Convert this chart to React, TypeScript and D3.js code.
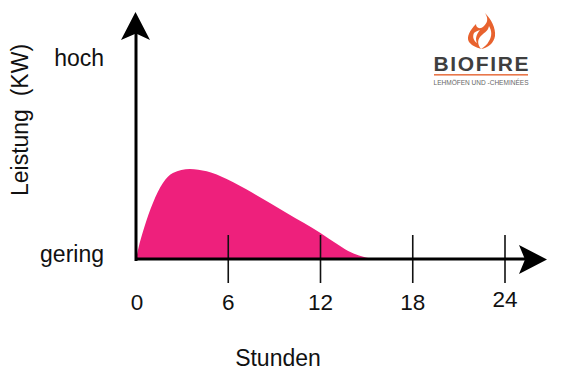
import React from "react";
import * as d3 from "d3";

const hours = [0, 0.13, 0.55, 1.1, 1.75, 2.4, 3.5, 4.6, 5.9, 7.6, 9.8, 12, 13, 13.8, 14.5, 15.4];
const power = [0, 0.045, 0.16, 0.279, 0.378, 0.428, 0.448, 0.436, 0.398, 0.328, 0.229, 0.129, 0.078, 0.04, 0.018, 0.0];
const tickHours = [6, 12, 18, 24];
const xLabels = ["0", "6", "12", "18", "24"];
const xLabelHours = [0, 6, 12, 18, 24];
const yLabels = ["gering", "hoch"];
const yLabelValues = [0, 1];

const x = d3.scaleLinear().domain([0, 24]).range([136, 505]);
const y = d3.scaleLinear().domain([0, 1]).range([259, 58]);
const FONT = "'Liberation Sans', Arial, sans-serif";

export default function App() {
  const area = d3
    .area<number>()
    .x((d) => x(d))
    .y0(y(0))
    .y1((_, i) => y(power[i]))
    .curve(d3.curveMonotoneX)(hours) as string;
  return (
    <svg
      width={561}
      height={379}
      style={{ position: "absolute", left: 0, top: 0, background: "#fff" }}
      fontFamily={FONT}
    >
      <path d={area} fill="#EE207C" />
      {tickHours.map((h) => (
        <line key={h} x1={x(h)} x2={x(h)} y1={235} y2={283} stroke="#111" strokeWidth={1.6} />
      ))}
      <line x1={136} x2={136} y1={30} y2={261} stroke="#000" strokeWidth={3} />
      <line x1={135} x2={530} y1={259} y2={259} stroke="#000" strokeWidth={3} />
      <path d="M135.5 12 L150 40 L136 33.5 L121 40 Z" fill="#000" />
      <path d="M547 259.5 L519 245 L525 259.5 L519 274 Z" fill="#000" />
      {xLabels.map((t, i) => (
        <text key={t} x={x(xLabelHours[i]) + (t === "0" ? 1 : 0)} y={t === "24" ? 307 : 310} fontSize={22.5} textAnchor="middle" fill="#111">
          {t}
        </text>
      ))}
      {yLabels.map((t, i) => (
        <text key={t} x={104} y={y(yLabelValues[i]) + (i === 0 ? 3 : 8)} fontSize={23} textAnchor="end" fill="#111">
          {t}
        </text>
      ))}
      <text x={278} y={366} fontSize={23} textAnchor="middle" fill="#111">Stunden</text>
      <text transform="translate(28,120) rotate(-90)" fontSize={23} textAnchor="middle" fill="#111" xmlSpace="preserve">
        Leistung  (KW)
      </text>
      <g>
        <path d="M485 13 C489 19 487 23 484 26 C480 30 476 28 476 24 C470 30 466 37 469 42 C472 46 476 47 481 49 C478 45 477 41 480 37 C483 33 488 32 489 26 C492 31 492 36 489 41 C487 45 484 47 481 49 C488 48 494 43 495 36 C496 28 491 19 485 13 Z" fill="#E8622E" />
        <path d="M474 33 C472 37 474 41 477 43 C475 39 476 35 480 30 C477 31 475 32 474 33 Z" fill="#fff" />
      </g>
      <text x={481} y={71} fontSize={21} fontWeight={700} textAnchor="middle" fill="#3f3f3f" textLength={95} lengthAdjust="spacing">BIOFIRE</text>
      <rect x={434} y={74} width={94} height={1.6} fill="#E8764A" />
      <text x={481} y={85} fontSize={7.6} textAnchor="middle" fill="#666" textLength={95} lengthAdjust="spacingAndGlyphs">LEHMÖFEN UND -CHEMINÉES</text>
    </svg>
  );
}
